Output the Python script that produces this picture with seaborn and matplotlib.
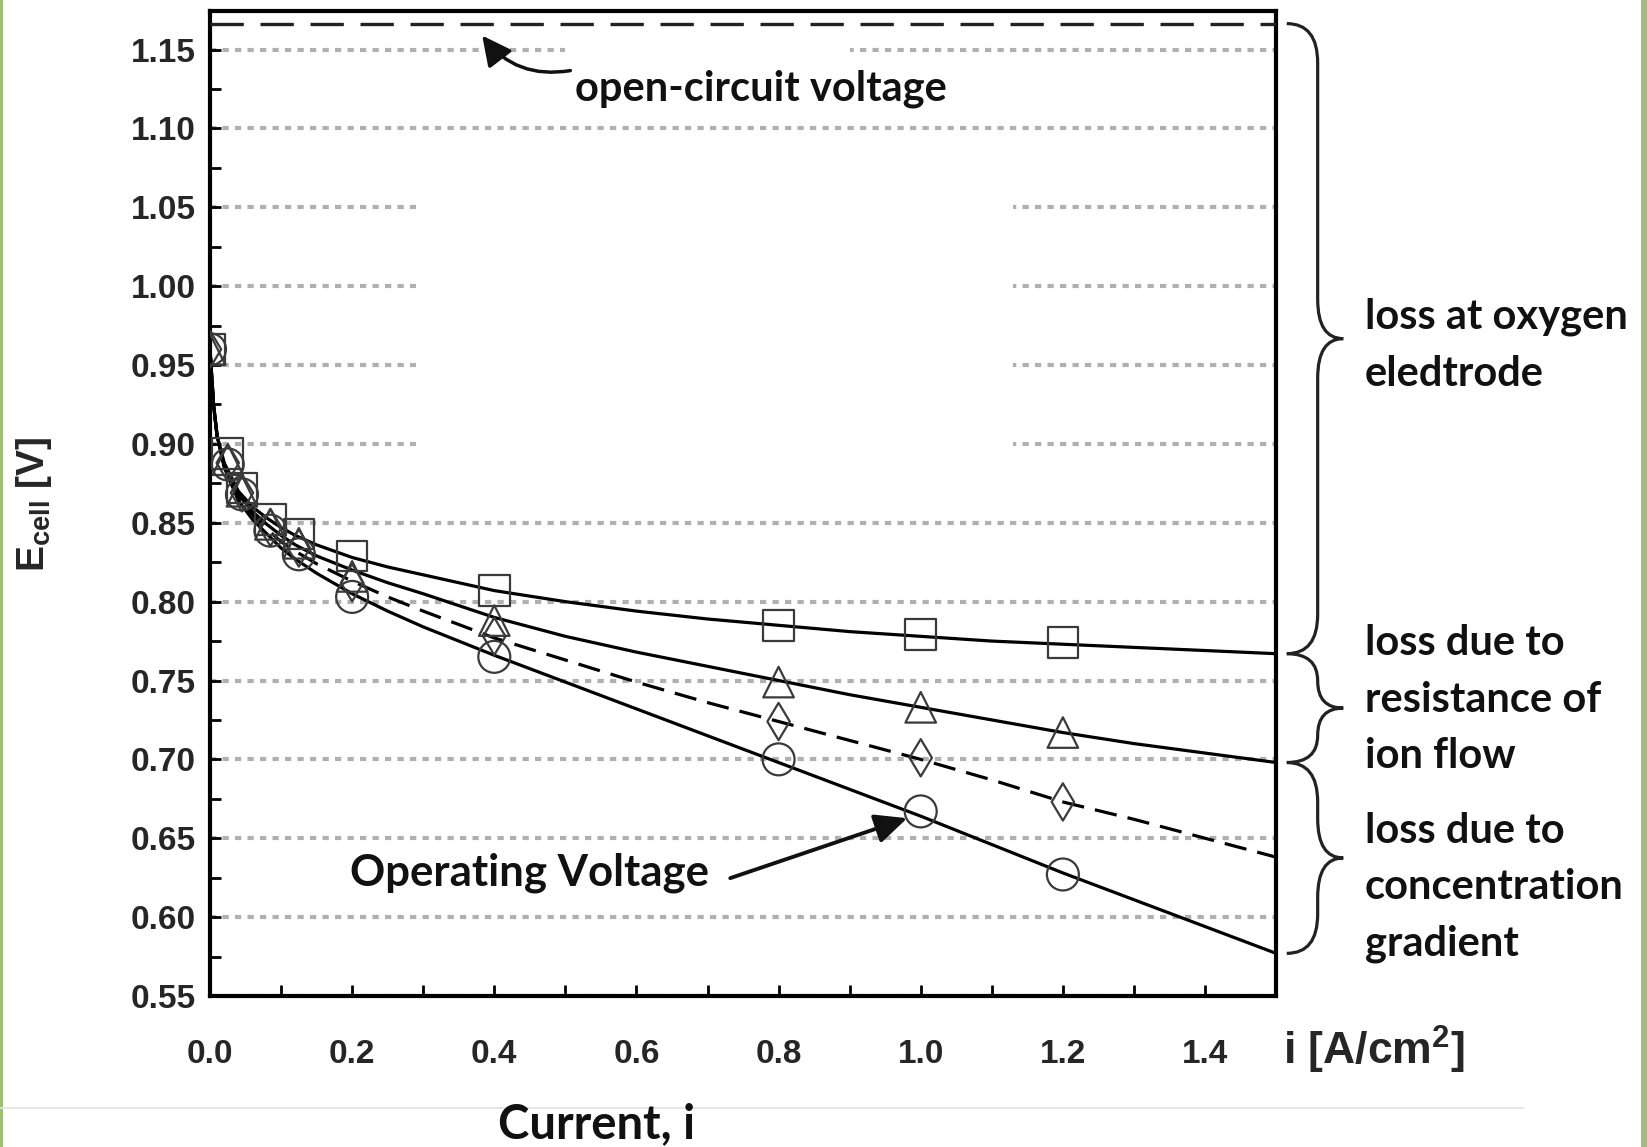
import matplotlib
matplotlib.use('Agg')
import matplotlib.pyplot as plt
import seaborn as sns
from matplotlib.ticker import MultipleLocator, FormatStrFormatter
from matplotlib.path import Path
from matplotlib.patches import PathPatch, Rectangle
from matplotlib import transforms

# measured points
i_meas = [0.0, 0.025, 0.045, 0.085, 0.125, 0.2, 0.4, 0.8, 1.0, 1.2]
e_square = [0.96, 0.894, 0.872, 0.852, 0.843, 0.829, 0.807, 0.785, 0.779, 0.774]
e_triangle = [0.96, 0.890, 0.870, 0.849, 0.837, 0.816, 0.788, 0.749, 0.733, 0.717]
e_diamond = [0.96, 0.888, 0.869, 0.847, 0.834, 0.812, 0.778, 0.724, 0.701, 0.673]
e_circle = [0.96, 0.887, 0.868, 0.845, 0.830, 0.803, 0.765, 0.700, 0.667, 0.627]

# model curves
i_curve = [0, 0.005, 0.01, 0.02, 0.04, 0.06, 0.08, 0.1, 0.12, 0.15, 0.2, 0.25, 0.3,
           0.4, 0.5, 0.6, 0.7, 0.8, 0.9, 1.0, 1.1, 1.2, 1.3, 1.4, 1.5]
c_square = [0.96, 0.925, 0.905, 0.888, 0.870, 0.860, 0.853, 0.847, 0.842, 0.836, 0.828, 0.822, 0.817,
            0.807, 0.800, 0.794, 0.789, 0.785, 0.781, 0.778, 0.775, 0.773, 0.771, 0.769, 0.767]
c_triangle = [0.96, 0.925, 0.905, 0.887, 0.868, 0.857, 0.849, 0.842, 0.836, 0.829, 0.820, 0.812, 0.805,
              0.790, 0.778, 0.768, 0.759, 0.750, 0.741, 0.733, 0.725, 0.717, 0.710, 0.704, 0.698]
c_diamond = [0.96, 0.925, 0.905, 0.886, 0.866, 0.855, 0.846, 0.838, 0.832, 0.824, 0.813, 0.803, 0.794,
             0.777, 0.763, 0.749, 0.736, 0.724, 0.712, 0.700, 0.687, 0.673, 0.662, 0.650, 0.638]
c_circle = [0.96, 0.925, 0.905, 0.885, 0.864, 0.852, 0.843, 0.834, 0.827, 0.818, 0.805, 0.794, 0.784,
            0.766, 0.749, 0.732, 0.715, 0.698, 0.681, 0.664, 0.646, 0.628, 0.611, 0.594, 0.577]

ocv = 1.1665
loss_labels = ['loss at oxygen\neledtrode', 'loss due to\nresistance of\nion flow',
               'loss due to\nconcentration\ngradient']
loss_bounds = [(ocv, c_square[-1]), (c_square[-1], c_triangle[-1]), (c_triangle[-1], c_circle[-1])]
loss_text_y = [0.9627, 0.7378, 0.6187]

sns.set_theme(style='white')
plt.rcParams['font.family'] = ['Liberation Sans', 'DejaVu Sans']
plt.rcParams['font.weight'] = 'bold'
plt.rcParams['mathtext.fontset'] = 'custom'
plt.rcParams['mathtext.bf'] = 'Liberation Sans:bold'
plt.rcParams['mathtext.rm'] = 'Liberation Sans:bold'
plt.rcParams['mathtext.default'] = 'bf'

fig = plt.figure(figsize=(16.47, 11.47), dpi=100)
ax = fig.add_axes([0.1275, 0.1317, 0.6473, 0.859])

# lines
lw = 2.3
sns.lineplot(x=i_curve, y=c_square, ax=ax, color='black', lw=lw, zorder=3)
sns.lineplot(x=i_curve, y=c_triangle, ax=ax, color='black', lw=lw, zorder=3)
sns.lineplot(x=i_curve, y=c_circle, ax=ax, color='black', lw=lw, zorder=3)
sns.lineplot(x=i_curve, y=c_diamond, ax=ax, color='black', lw=lw, zorder=3)
ax.lines[-1].set_dashes((7, 3.5))
ax.axhline(ocv, color='#222222', lw=2.4, dashes=(10, 5), zorder=3)

mk = dict(facecolor='none', edgecolor='#3a3a3a', linewidth=1.6, zorder=4, legend=False)
sns.scatterplot(x=i_meas, y=e_square, marker='s', s=22**2, ax=ax, **mk)
sns.scatterplot(x=i_meas, y=e_triangle, marker='^', s=22**2, ax=ax, **mk)
sns.scatterplot(x=i_meas, y=e_diamond, marker='d', s=19**2, ax=ax, **mk)
sns.scatterplot(x=i_meas, y=e_circle, marker='o', s=23**2, ax=ax, **mk)

# axes
ax.set_xlim(0, 1.5)
ax.set_ylim(0.55, 1.1747)
ax.xaxis.set_major_locator(MultipleLocator(0.2))
ax.xaxis.set_minor_locator(MultipleLocator(0.1))
ax.xaxis.set_major_formatter(FormatStrFormatter('%.1f'))
ax.yaxis.set_major_locator(MultipleLocator(0.05))
ax.yaxis.set_minor_locator(MultipleLocator(0.025))
ax.yaxis.set_major_formatter(FormatStrFormatter('%.2f'))
ax.tick_params(axis='both', which='both', direction='in', length=8, width=2, color='black',
               bottom=True, left=True, top=False, right=False)
ax.tick_params(axis='x', which='major', pad=31, labelsize=24)
ax.tick_params(axis='y', which='major', pad=10, labelsize=24)
for s in ax.spines.values():
    s.set_linewidth(3)
    s.set_color('black')

ax.set_axisbelow(True)
ax.grid(axis='y', which='major', color='#b0b0b0', lw=3, linestyle=(0, (1.5, 1.5)))
ax.grid(axis='x', visible=False)
# erased parts of the grid in the original
ax.add_patch(Rectangle((0.29, 0.875), 0.84, 0.2, color='white', zorder=1, lw=0))
ax.add_patch(Rectangle((0.50, 1.135), 0.40, 0.025, color='white', zorder=1, lw=0))

# annotations
afont = dict(family=['Lato', 'DejaVu Sans'], weight='bold', color='#111111')
ax.annotate('', xy=(0.383, 1.1589), xytext=(0.507, 1.1367),
            arrowprops=dict(arrowstyle='-|>,head_length=0.6,head_width=0.3', color='#111111', lw=2.5,
                            connectionstyle='arc3,rad=-0.3', shrinkA=0, shrinkB=0, mutation_scale=30))
ax.text(0.514, 1.1253, 'open-circuit voltage', fontsize=30, va='center', ha='left', **afont)
ax.text(0.197, 0.628, 'Operating Voltage', fontsize=31.5, va='center', ha='left', **afont)
ax.annotate('', xy=(0.981, 0.6627), xytext=(0.732, 0.6247),
            arrowprops=dict(arrowstyle='-|>,head_length=0.65,head_width=0.3', color='#111111', lw=2.8,
                            shrinkA=0, shrinkB=0, mutation_scale=30))

# braces on the right
bt = transforms.blended_transform_factory(ax.transAxes, ax.transData)
xa, xb, xc = 1.010, 1.039, 1.063
for (yt, yb), lab, ty in zip(loss_bounds, loss_labels, loss_text_y):
    ym = (yt + yb) / 2
    r = min(0.025, (yt - yb) / 4)
    verts = [(xa, yt), (xb, yt), (xb, yt - r), (xb, ym + r), (xb, ym), (xc, ym),
             (xb, ym), (xb, ym - r), (xb, yb + r), (xb, yb), (xa, yb)]
    codes = [Path.MOVETO, Path.CURVE3, Path.CURVE3, Path.LINETO, Path.CURVE3, Path.CURVE3,
             Path.CURVE3, Path.CURVE3, Path.LINETO, Path.CURVE3, Path.CURVE3]
    ax.add_patch(PathPatch(Path(verts, codes), transform=bt, fill=False, lw=2.3,
                           edgecolor='#222222', clip_on=False))
    ax.text(1.0835, ty, lab, transform=bt, fontsize=30, va='center', ha='left',
            linespacing=1.6, **afont)

# labels
fig.text(0.0206, 0.5606, r'E$_{\mathbf{cell}}$ [V]', rotation=90, ha='center', va='center',
         fontsize=28, fontweight='bold')
fig.text(0.779, 0.0846, r'i [A/cm$^{2}$]', ha='left', va='center', fontsize=32, fontweight='bold')
fig.text(0.3625, 0.020, 'Current, i', ha='center', va='center', fontsize=34, **afont)

# frame decoration
green = '#9fbf78'
fig.add_artist(Rectangle((0, 0), 3 / 1647, 1, transform=fig.transFigure, color=green, lw=0))
fig.add_artist(Rectangle((1641 / 1647, 0), 6 / 1647, 1, transform=fig.transFigure, color=green, lw=0))
fig.add_artist(plt.Line2D([0, 0.925], [0.034, 0.034], transform=fig.transFigure, color='#e2e2e2', lw=1.2))

fig.savefig('out.png', dpi=100)
